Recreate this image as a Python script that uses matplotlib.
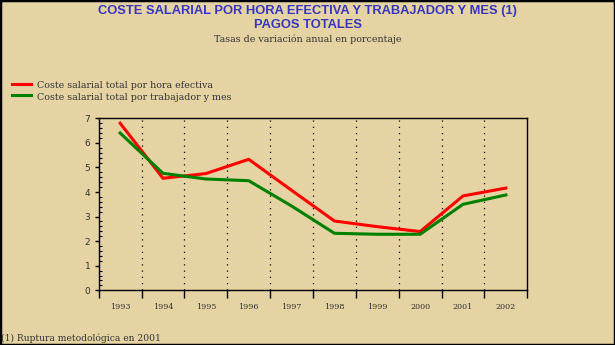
import numpy as np
import matplotlib.pyplot as plt
from matplotlib.lines import Line2D
from matplotlib.patches import Rectangle

years = ["1993", "1994", "1995", "1996", "1997", "1998", "1999", "2000", "2001", "2002"]
coste_hora = [6.80, 4.56, 4.75, 5.33, 4.07, 2.82, 2.59, 2.39, 3.84, 4.16]
coste_trabajador = [6.40, 4.76, 4.53, 4.46, 3.43, 2.32, 2.28, 2.28, 3.50, 3.88]

BG = "#E5D3A3"
TITLE_BLUE = "#3535C0"
TXT = "#333333"

fig = plt.figure(figsize=(6.15, 3.45), dpi=100)
fig.patch.set_facecolor(BG)

ax = fig.add_axes([0.1605, 0.1586, 0.8574 - 0.1605, 0.6571 - 0.1586])
ax.set_facecolor(BG)

x = np.arange(len(years)) + 0.5
ax.plot(x, coste_hora, color="#FF0000", lw=2.2, solid_joinstyle="miter")
ax.plot(x, coste_trabajador, color="#008000", lw=2.2, solid_joinstyle="miter")

# dotted separators between years
for b in range(1, len(years)):
    ax.axvline(b, color="black", lw=0.9, ls=(0, (1, 4)), zorder=0)

ax.set_xlim(0, len(years))
ax.set_ylim(0, 7)
ax.set_xticks(np.arange(len(years) + 1))
ax.set_xticklabels([])
ax.set_xticks(x, minor=True)
ax.set_xticklabels(years, minor=True, family="DejaVu Serif", fontsize=5.8, color=TXT)
ax.tick_params(axis="x", which="major", direction="out", length=6, width=1)
ax.tick_params(axis="x", which="minor", length=0, pad=9)

ax.set_yticks(range(0, 8))
ax.set_yticklabels([str(v) for v in range(0, 8)], family="DejaVu Sans", fontsize=6.5, color=TXT)
ax.set_yticks(np.arange(0, 7.01, 0.2), minor=True)
ax.tick_params(axis="y", which="major", direction="out", length=3, width=1, pad=3)
ax.tick_params(axis="y", which="minor", direction="in", length=2.5, width=0.8)
for s in ax.spines.values():
    s.set_linewidth(1.0)

# titles
fig.text(0.5, 1 - 11 / 345, "COSTE SALARIAL POR HORA EFECTIVA Y TRABAJADOR Y MES (1)",
         ha="center", va="center", color=TITLE_BLUE, fontsize=9.3, fontweight="bold",
         family="Liberation Sans")
fig.text(0.5, 1 - 25 / 345, "PAGOS TOTALES", ha="center", va="center", color=TITLE_BLUE,
         fontsize=9.3, fontweight="bold", family="Liberation Sans")
fig.text(0.5, 1 - 39 / 345, "Tasas de variación anual en porcentaje", ha="center", va="center",
         color=TXT, fontsize=6.8, family="DejaVu Serif")

# legend outside the axes
for yy, col, lab in [(84, "#FF0000", "Coste salarial total por hora efectiva"),
                     (95, "#008000", "Coste salarial total por trabajador y mes")]:
    fig.add_artist(Line2D([12 / 615, 31 / 615], [1 - yy / 345, 1 - yy / 345],
                          color=col, lw=2.2, transform=fig.transFigure))
    fig.text(37 / 615, 1 - (yy + 2) / 345, lab, ha="left", va="center", fontsize=6.8,
             color=TXT, family="DejaVu Serif")

fig.text(1 / 615, 1 - 338 / 345, "(1) Ruptura metodológica en 2001", ha="left", va="center",
         fontsize=6.6, color=TXT, family="DejaVu Serif")

# black frame around the figure
fig.add_artist(Rectangle((0, 0), 1, 1, transform=fig.transFigure, fill=False,
                         edgecolor="black", lw=2.5))

fig.savefig("out.png", dpi=100, facecolor=BG)
